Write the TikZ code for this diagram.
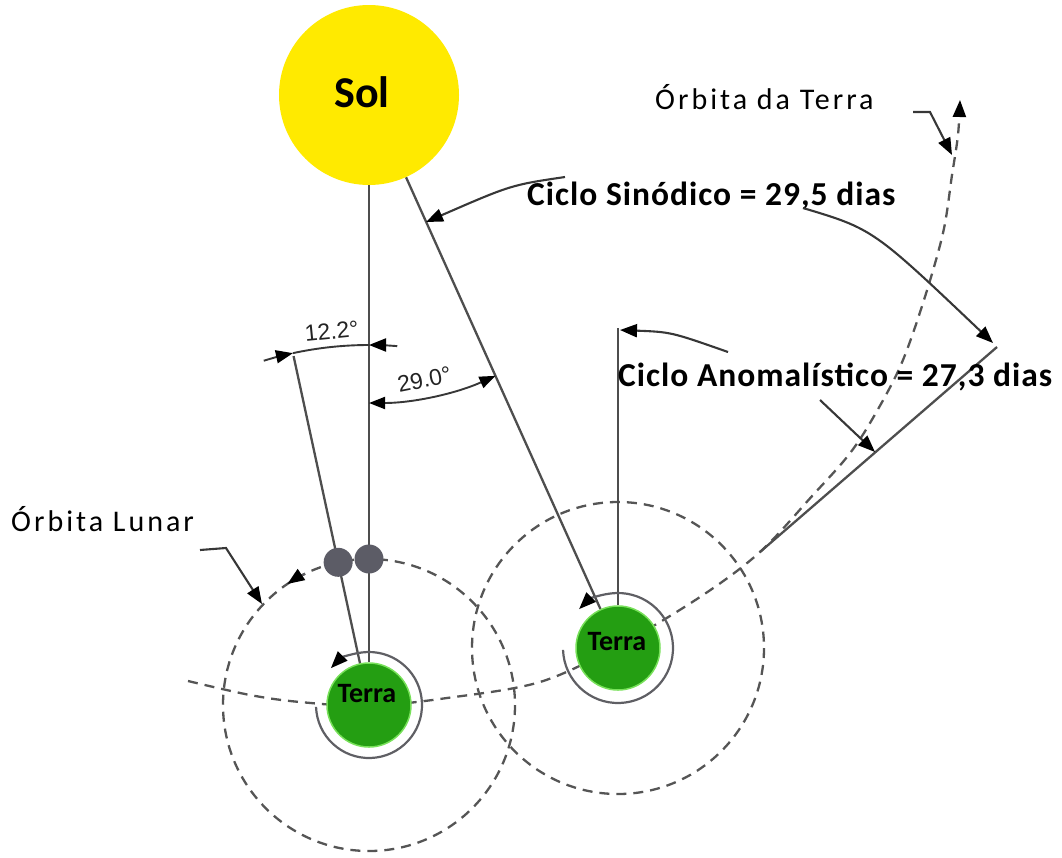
\documentclass[tikz,border=0pt]{standalone}
\usepackage{fontspec}
\setmainfont{Carlito}
\newfontfamily\cyclefont[LetterSpace=3]{Carlito}
\newfontfamily\orbitfont[LetterSpace=10]{Carlito}
\newfontfamily\anglefont{Liberation Sans}
\usetikzlibrary{arrows.meta,calc}
\pgfdeclarelayer{bg}
\pgfsetlayers{bg,main}

\definecolor{sunyellow}{RGB}{255,234,0}
\definecolor{earthgreen}{RGB}{36,158,18}
\definecolor{earthrim}{RGB}{120,225,90}
\definecolor{moongray}{RGB}{92,92,102}
\definecolor{linegray}{RGB}{78,78,78}
\definecolor{dashgray}{RGB}{85,85,85}
\definecolor{leadgray}{RGB}{55,55,55}
\definecolor{ringgray}{RGB}{95,95,100}
\definecolor{dimtext}{RGB}{35,35,35}

\begin{document}
\begin{tikzpicture}[x=1pt,y=-1pt,
  tip/.style={-{Triangle[length=17pt,width=13pt,color=black]}},
  bothtips/.style={{Triangle[length=16pt,width=12pt,color=black]}-{Triangle[length=16pt,width=12pt,color=black]}},
  guide/.style={draw=linegray,line width=2.3pt},
  orbitpath/.style={draw=dashgray,line width=2.3pt,dash pattern=on 10pt off 7pt},
  pointer/.style={draw=leadgray,line width=2.1pt},
  ringline/.style={draw=ringgray,line width=2.2pt},
  dimline/.style={draw=leadgray,line width=1.9pt},
  sunbody/.style={circle,fill=sunyellow,minimum size=180pt,inner sep=0pt},
  earthbody/.style={circle,fill=earthgreen,draw=earthrim,line width=1.5pt,minimum size=84pt,inner sep=0pt},
  moonbody/.style={circle,fill=moongray,minimum size=29pt,inner sep=0pt},
  suntext/.style={font=\bfseries\fontsize{44}{48}\selectfont,anchor=base,inner sep=0pt},
  earthtext/.style={font=\bfseries\fontsize{28}{30}\selectfont,anchor=base,inner sep=0pt},
  cycletext/.style={font=\cyclefont\bfseries\fontsize{33.5}{36}\selectfont,anchor=base west,inner sep=0pt},
  orbittext/.style={font=\orbitfont\fontsize{30}{32}\selectfont,anchor=base west,inner sep=0pt},
  angletext/.style={font=\anglefont\fontsize{23}{25}\selectfont,text=dimtext,inner sep=0pt}
]
\useasboundingbox (0,0) rectangle (1062,857);

% bodies
\node[sunbody] (sol) at (369,95) {};
\node[earthbody] (t1) at (369,705) {};
\node[earthbody] (t2) at (618,648) {};
\node[moonbody] (m1) at ($(t1)+(-102.2:146)$) {};
\node[moonbody] (m2) at ($(t1)+(-90:146)$) {};

% helper points
\coordinate (b0) at ($(t1)+(-102.2:42)$);
\coordinate (b1) at ($(t1)+(-102.2:357)$);
\coordinate (dtop) at (618,328);
\coordinate (e0) at (760,552);
\coordinate (e1) at (997,347);

\begin{pgfonlayer}{bg}
  % lunar orbits
  \draw[orbitpath] (t1) circle[radius=146];
  \draw[orbitpath] (t2) circle[radius=146];
  % Earth orbit
  \draw[orbitpath,tip] plot[smooth,tension=0.55] coordinates {
    (188,681) (250,695) (300,702) (369,706) (447,698) (540,682)
    (618,646) (700,597) (760,552) (813,495) (847,457) (870,423)
    (900,367) (923,303) (943,233) (952,175) (958,135) (960,100)};
  % Sun--Earth directions
  \draw[guide] (sol.south) -- (t1.north);
  \draw[guide] (b0) -- (b1);
  \draw[guide] (sol) -- (t2);
  \draw[guide] (t2.north) -- (dtop);
  \draw[guide] (e0) -- (e1);
\end{pgfonlayer}

% rotation arrows around each Earth
\draw[ringline,tip] ($(t1)+(-182:53)$) arc[start angle=-182,end angle=-496,radius=53];
\draw[ringline,tip] ($(t2)+(-182:55)$) arc[start angle=-182,end angle=-495,radius=55];

% direction of the Moon on its orbit
\draw[ringline,tip] ($(t1)+(-116:146)$) arc[start angle=-116,end angle=-124,radius=146];

% angle 12.2
\draw[dimline] ($(t1)+(-102.2:360)$) arc[start angle=-102.2,end angle=-90,radius=360];
\draw[dimline,tip] ($(t1)+(-107:360)$) arc[start angle=-107,end angle=-102.2,radius=360];
\draw[dimline,tip] ($(t1)+(-85.5:360)$) arc[start angle=-85.5,end angle=-90,radius=360];
\node[angletext,rotate=5.7] (a12) at ($(t1)+(-95.7:376)$) {12.2°};

% angle 29.0
\draw[dimline,bothtips] ($(sol)+(90:308)$) arc[start angle=90,end angle=65.76,radius=308];
\node[angletext,rotate=11.4] (a29) at ($(sol)+(79:290)$) {29.0°};

% labels
\node[suntext] (soltext) at (362,107) {Sol};
\node[earthtext] (t1text) at (367,702) {Terra};
\node[earthtext] (t2text) at (617,650) {Terra};
\node[cycletext] (sinodico) at (527,205) {Ciclo Sinódico = 29,5 dias};
\node[cycletext] (anomal) at (618,386) {Ciclo Anomalístico = 27,3 dias};
\node[orbittext] (orbT) at (655,109) {Órbita da Terra};
\node[orbittext] (orbL) at (11,531) {Órbita Lunar};

% pointers from the labels
\coordinate (s0) at (565,177);
\coordinate (s1) at (426,222);
\coordinate (s2) at (803,208);
\coordinate (s3) at (993,343);
\coordinate (n0) at (728,352);
\coordinate (n1) at (620,330);
\coordinate (n2) at (820,400);
\coordinate (n3) at (875,452);
\draw[pointer,tip] (s0) .. controls (511,185) .. (s1);
\draw[pointer,tip] (s2) .. controls (873,229) .. (s3);
\draw[pointer,tip] (n0) .. controls (671,332) .. (n1);
\draw[pointer,tip] (n2) -- (n3);

\coordinate (l0) at (200,550);
\coordinate (l1) at (226,548);
\coordinate (l2) at (262,604);
\draw[pointer,tip] (l0) -- (l1) -- (l2);
\coordinate (o0) at (913,112);
\coordinate (o1) at (930,112);
\coordinate (o2) at (952,155);
\draw[pointer,tip] (o0) -- (o1) -- (o2);
\end{tikzpicture}
\end{document}
